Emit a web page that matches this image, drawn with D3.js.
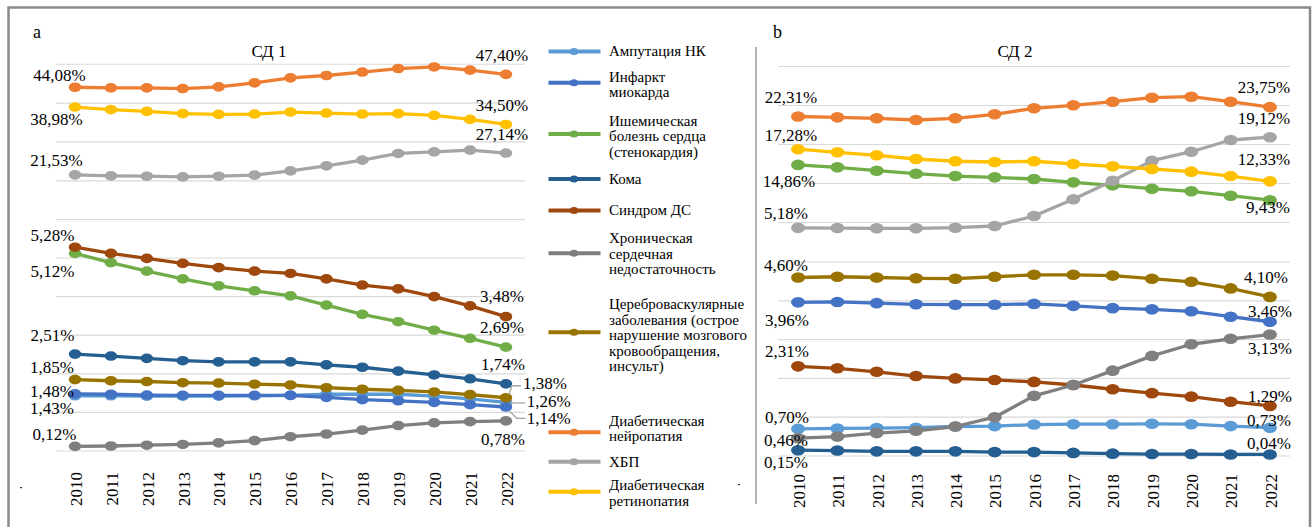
<!DOCTYPE html>
<html><head><meta charset="utf-8">
<script src="https://cdn.jsdelivr.net/npm/d3@7"></script>
<style>
html,body{margin:0;padding:0;background:#fff;}
svg{display:block;}
</style></head>
<body>
<svg id="chart" width="1315" height="527"></svg>
<script>
// ---------- data ----------
const years = [2010,2011,2012,2013,2014,2015,2016,2017,2018,2019,2020,2021,2022];
const seriesKeys = ["amp","mi","ihd","coma","ds","chf","cvd","neuro","ckd","retino"];
const legendLines = [
  ["Ампутация НК"],
  ["Инфаркт","миокарда"],
  ["Ишемическая","болезнь сердца","(стенокардия)"],
  ["Кома"],
  ["Синдром ДС"],
  ["Хроническая","сердечная","недостаточность"],
  ["Цереброваскулярные","заболевания (острое","нарушение мозгового","кровообращения,","инсульт)"],
  ["Диабетическая","нейропатия"],
  ["ХБП"],
  ["Диабетическая","ретинопатия"]
];
// СД 1 (panel a)
const amp1    = [1.43,1.43,1.42,1.42,1.42,1.43,1.44,1.47,1.47,1.47,1.42,1.35,1.26];
const mi1     = [1.48,1.47,1.45,1.44,1.44,1.44,1.44,1.39,1.33,1.30,1.26,1.20,1.14];
const ihd1    = [5.12,4.88,4.66,4.46,4.28,4.15,4.02,3.78,3.54,3.35,3.13,2.92,2.69];
const coma1   = [2.51,2.46,2.40,2.34,2.31,2.31,2.31,2.23,2.17,2.07,1.97,1.87,1.74];
const ds1     = [5.28,5.12,4.99,4.86,4.75,4.66,4.60,4.46,4.30,4.20,4.00,3.76,3.48];
const chf1    = [0.12,0.13,0.15,0.17,0.21,0.27,0.37,0.44,0.54,0.66,0.73,0.76,0.78];
const cvd1    = [1.85,1.82,1.80,1.77,1.76,1.73,1.71,1.64,1.60,1.57,1.53,1.46,1.38];
const neuro1  = [44.08,43.93,43.93,43.75,44.18,45.20,46.50,47.10,48.00,48.90,49.30,48.50,47.40];
const ckd1    = [21.53,21.27,21.19,21.00,21.19,21.45,22.56,23.85,25.31,27.04,27.45,27.89,27.14];
const retino1 = [38.98,38.31,37.87,37.28,37.10,37.18,37.70,37.44,37.18,37.28,36.84,35.81,34.50];
// СД 2 (panel b)
const amp2    = [0.70,0.71,0.72,0.73,0.76,0.77,0.81,0.82,0.82,0.83,0.82,0.77,0.73];
const mi2     = [3.96,3.97,3.94,3.91,3.90,3.90,3.92,3.87,3.81,3.78,3.73,3.59,3.46];
const ihd2    = [14.86,14.49,13.97,13.51,13.15,12.95,12.69,12.18,11.72,11.20,10.80,10.12,9.43];
const coma2   = [0.15,0.14,0.12,0.12,0.12,0.10,0.10,0.08,0.06,0.05,0.05,0.04,0.04];
const ds2     = [2.31,2.26,2.17,2.06,2.00,1.96,1.91,1.83,1.72,1.62,1.53,1.40,1.29];
const chf2    = [0.46,0.50,0.59,0.65,0.76,1.00,1.55,1.83,2.20,2.58,2.88,3.02,3.13];
const cvd2    = [4.60,4.62,4.60,4.58,4.57,4.62,4.67,4.67,4.65,4.57,4.49,4.32,4.10];
const neuro2  = [22.31,22.18,22.03,21.77,22.03,22.65,23.57,24.03,24.58,25.20,25.35,24.58,23.75];
const ckd2    = [5.18,5.15,5.11,5.11,5.20,5.46,7.00,9.57,12.43,15.51,16.89,18.69,19.12];
const retino2 = [17.28,16.80,16.34,15.77,15.42,15.31,15.42,15.00,14.65,14.23,13.82,13.15,12.33];
const lowTicks1 = [0,1,2,3,4,5];
const highTicks1 = [10,20,30,40,50];
const lowTicks2 = [0,1,2,3,4,5];
const highTicks2 = [6,12,18,24,30];

// ---------- styles / layout ----------
const FF = "Liberation Serif";
const colors = {amp:"#5B9BD5",mi:"#4472C4",ihd:"#70AD47",coma:"#255E91",ds:"#9E480E",chf:"#7F7F7F",cvd:"#997300",neuro:"#ED7D31",ckd:"#A5A5A5",retino:"#FFC000"};
const svg = d3.select("#chart");

// frame
svg.append("path").attr("d","M8.5,540V7.5H1310V540").attr("fill","none").attr("stroke","#8a8a8a").attr("stroke-width",2.5);
// divider of panel b
svg.append("line").attr("x1",756).attr("x2",756).attr("y1",47).attr("y2",504).attr("stroke","#9a9a9a").attr("stroke-width",1.5);
// stray dots
svg.append("rect").attr("x",20).attr("y",487).attr("width",2).attr("height",1.2).attr("fill","#333");
svg.append("rect").attr("x",738).attr("y",484).attr("width",2).attr("height",1.2).attr("fill","#333");

function fmt(v){ return d3.format(".2f")(v).replace(".",",") + "%"; }

function panel(cfg){
  const g = svg.append("g");
  const x = d3.scalePoint().domain(years).range(cfg.xRange).padding(cfg.pad);
  const yLow = d3.scaleLinear().domain([0,5]).range(cfg.lowRange);
  const yHigh = d3.scaleLinear().domain(cfg.highDomain).range(cfg.highRange);
  const grid = cfg.lowTicks.map(t=>yLow(t)).concat(cfg.highTicks.map(t=>yHigh(t)));
  g.selectAll("line.grid").data(grid).join("line")
    .attr("x1",cfg.xRange[0]).attr("x2",cfg.xRange[1])
    .attr("y1",d=>d).attr("y2",d=>d).attr("stroke","#d9d9d9").attr("stroke-width",1.2);
  g.selectAll("text.year").data(years).join("text")
    .attr("transform",d=>`translate(${x(d)},${cfg.yearY}) rotate(-90)`)
    .attr("text-anchor","end").attr("dy","0.4em")
    .attr("font-family",FF).attr("font-size",17).text(d=>d);
  g.append("text").attr("x",cfg.letter[0]).attr("y",cfg.letter[1]).attr("font-family",FF).attr("font-size",18).text(cfg.letterText);
  g.append("text").attr("x",cfg.title[0]).attr("y",cfg.title[1]).attr("text-anchor","middle").attr("font-family",FF).attr("font-size",17).text(cfg.titleText);
  const line = d3.line();
  cfg.series.forEach(s=>{
    const y = s.high ? yHigh : yLow;
    const pts = s.values.map((v,i)=>[x(years[i]), y(v)]);
    g.append("path").attr("d",line(pts)).attr("fill","none").attr("stroke",colors[s.key]).attr("stroke-width",3.3).attr("stroke-linejoin","round");
    g.selectAll(null).data(pts).join("ellipse")
      .attr("cx",d=>d[0]).attr("cy",d=>d[1]).attr("rx",cfg.rx).attr("ry",cfg.ry).attr("fill",colors[s.key]);
    s.pts = pts;
  });
  cfg.series.forEach(s=>{
    const lab = cfg.labels[s.key];
    const n = s.values.length-1;
    [[0,lab.first],[n,lab.last]].forEach(([i,o])=>{
      const p = s.pts[i];
      if(o[3]){
        g.append("polyline").attr("points",o[3].map(q=>[p[0]+q[0],p[1]+q[1]].join(",")).join(" "))
          .attr("fill","none").attr("stroke","#a6a6a6").attr("stroke-width",1.3);
      }
      g.append("text").attr("x",p[0]+o[0]).attr("y",p[1]+o[1])
        .attr("text-anchor",o[2]||"middle").attr("dominant-baseline","central")
        .attr("font-family",FF).attr("font-size",17).text(fmt(s.values[i]));
    });
  });
}

panel({
  xRange:[56,525], pad:0.53, lowRange:[451,258], highDomain:[0,50], highRange:[258.5,64.25],
  lowTicks:lowTicks1, highTicks:highTicks1, yearY:472, rx:6.3, ry:4.8,
  letter:[33,38], letterText:"a", title:[269,57], titleText:"СД 1",
  series:[
    {key:"amp",values:amp1},{key:"mi",values:mi1},{key:"ihd",values:ihd1},{key:"coma",values:coma1},
    {key:"ds",values:ds1},{key:"chf",values:chf1},{key:"cvd",values:cvd1},
    {key:"neuro",values:neuro1,high:true},{key:"ckd",values:ckd1,high:true},{key:"retino",values:retino1,high:true}
  ],
  labels:{
    neuro:{first:[-15.5,-11.7],last:[-4,-19]},
    retino:{first:[-18.5,12],last:[-4,-19]},
    ckd:{first:[-18.5,-14],last:[-4,-19]},
    ds:{first:[-22.5,-12],last:[-4,-20]},
    ihd:{first:[-22.5,18],last:[-4,-20]},
    coma:{first:[-22.5,-19],last:[-3,-19]},
    cvd:{first:[-23,-12],last:[17,-14.5,"start",[[3,-3],[6,-12],[15,-12]]]},
    mi:{first:[-23,-2.4],last:[20.7,12,"start",[[4,4.7],[10.7,11.3],[19.5,11.3]]]},
    amp:{first:[-23,12.5],last:[20.7,-0.7,"start",[[4,0.6],[19.5,0.6]]]},
    chf:{first:[-20.5,-11.5],last:[-3,19]}
  }
});

panel({
  xRange:[778,1290], pad:0.51, lowRange:[456,262], highDomain:[0,30], highRange:[261.5,66.5],
  lowTicks:lowTicks2, highTicks:highTicks2, yearY:474, rx:7, ry:5.3,
  letter:[773,38], letterText:"b", title:[1015,57], titleText:"СД 2",
  series:[
    {key:"amp",values:amp2},{key:"mi",values:mi2},{key:"ihd",values:ihd2,high:true},{key:"coma",values:coma2},
    {key:"ds",values:ds2},{key:"chf",values:chf2},{key:"cvd",values:cvd2},
    {key:"neuro",values:neuro2,high:true},{key:"ckd",values:ckd2,high:true},{key:"retino",values:retino2,high:true}
  ],
  labels:{
    neuro:{first:[-7,-19],last:[-6,-20]},
    retino:{first:[-7,-14],last:[-6,-22]},
    ihd:{first:[-9,17],last:[-2,7]},
    ckd:{first:[-12,-14],last:[-6,-19]},
    cvd:{first:[-12,-12],last:[-4,-19]},
    mi:{first:[-11,18],last:[0,-10]},
    ds:{first:[-11,-15],last:[0,-9]},
    chf:{first:[-12,2],last:[0,14]},
    amp:{first:[-11,-11.7],last:[-1,-7]},
    coma:{first:[-12,12],last:[-1,-11]}
  }
});

// ---------- legend ----------
const legendY    = [51.5, 82.7, 134, 179, 210.5, 253.3, 332.3, 432.3, 461.7, 491.7];
const legendText = [50.5, 76.5, 120.7, 179, 209.8, 238.3, 304, 420.7, 461.7, 485];
const LH = 15.5;
const lg = svg.append("g");
seriesKeys.forEach((k,i)=>{
  const cy = legendY[i];
  lg.append("line").attr("x1",548.5).attr("x2",600.5).attr("y1",cy).attr("y2",cy)
    .attr("stroke",colors[k]).attr("stroke-width",4);
  lg.append("ellipse").attr("cx",574).attr("cy",cy).attr("rx",4.3).attr("ry",3.5).attr("fill",colors[k]);
  const lines = legendLines[i];
  const t = lg.append("text").attr("x",609).attr("font-family",FF).attr("font-size",15);
  lines.forEach((ln,j)=>{
    t.append("tspan").attr("x",609).attr("y",legendText[i]+j*LH).attr("dominant-baseline","central").text(ln);
  });
});
</script>
</body></html>
